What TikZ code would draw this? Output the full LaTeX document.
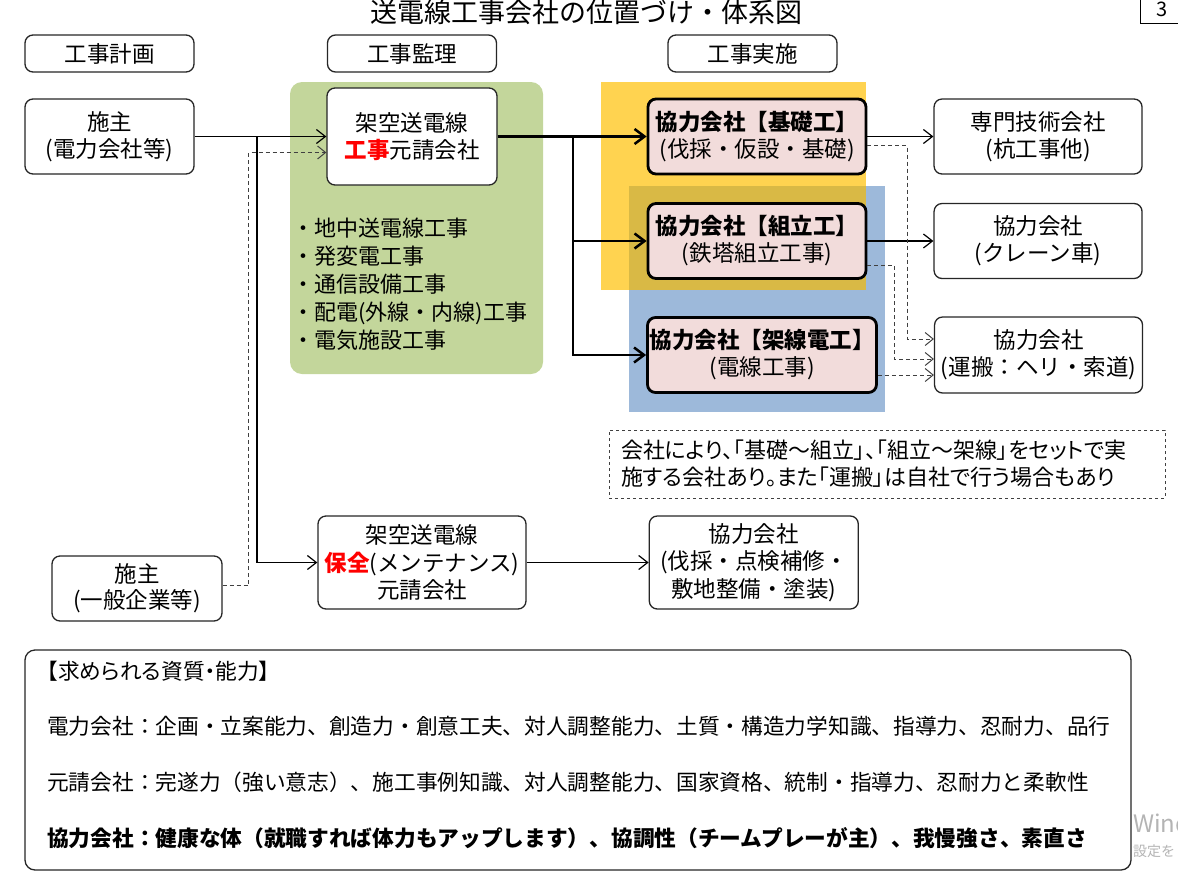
\documentclass[tikz,border=0pt]{standalone}
\usepackage{fontspec}
\setmainfont{Noto Sans CJK JP}
\usepackage{xcolor}
\usetikzlibrary{arrows.meta, positioning}
\definecolor{bggreen}{HTML}{C3D69B}
\definecolor{bgyellow}{HTML}{FFD350}
\definecolor{bgblue}{HTML}{9DB9DA}
\definecolor{bgmix}{HTML}{D9B945}
\definecolor{pinkfill}{HTML}{F2DCDB}
\definecolor{markgray}{HTML}{B4B4B4}

\begin{document}
\begin{tikzpicture}[x=1pt, y=-1pt,
    box/.style={rectangle, rounded corners=8pt, draw=black!85, line width=1.3pt, fill=white,
                align=center, inner sep=2pt, font=\fontsize{22.5}{27}\selectfont},
    headbox/.style={box, minimum width=169pt, minimum height=37pt},
    pinkbox/.style={box, fill=pinkfill, draw=black, line width=2.8pt, minimum height=75pt},
    arrow/.style={-{Straight Barb[length=9pt,width=14pt]}, line width=1.2pt},
    thickarrow/.style={-{Straight Barb[length=10pt,width=15pt]}, line width=2.5pt},
    dasharrow/.style={-{Straight Barb[length=8pt,width=13pt]}, line width=1pt,
                      dash pattern=on 4pt off 3pt, draw=black!75}
]
    \useasboundingbox (0,0) rectangle (1178,876);

    % coloured groups
    \fill[bggreen, rounded corners=12pt] (290,82) rectangle (543,374);
    \fill[bgblue] (629,186) rectangle (885,412);
    \fill[bgyellow] (601,82) rectangle (866,290);
    \fill[bgmix] (629,186) rectangle (866,290);

    \node[font=\fontsize{27}{27}\selectfont] (title) at (586,12) {送電線工事会社の位置づけ・体系図};
    \node[draw, line width=1pt, minimum width=44pt, minimum height=28pt,
          font=\fontsize{20}{20}\selectfont] (pagenum) at (1162,9) {3};

    \node[headbox] (plan)  at (109.5,53.5) {工事計画};
    \node[headbox] (super) at (412,53.5)   {工事監理};
    \node[headbox] (exec)  at (752.5,53.5) {工事実施};

    \node[box, minimum width=169pt, minimum height=75pt] (owner) at (109.5,136.5) {施主\\(電力会社等)};
    \node[box, minimum width=170pt, minimum height=97pt] (prime) at (412,136.5)
        {架空送電線\\\textbf{\textcolor{red}{工事}}元請会社};
    \node[anchor=north west, align=left, inner sep=0pt, font=\fontsize{22}{28}\selectfont] (works)
        at (292,218) {・地中送電線工事\\・発変電工事\\・通信設備工事\\・配電(外線・内線)工事\\・電気施設工事};

    \node[pinkbox, minimum width=218pt] (kiso)  at (757,136.5) {\textbf{協力会社【基礎工】}\\(伐採・仮設・基礎)};
    \node[pinkbox, minimum width=218pt] (kumi)  at (757,241)   {\textbf{協力会社【組立工】}\\(鉄塔組立工事)};
    \node[pinkbox, minimum width=228pt] (kasen) at (762,355)   {\textbf{協力会社【架線電工】}\\(電線工事)};

    \node[box, minimum width=208pt, minimum height=75pt, right=66pt of kiso]  (senmon) {専門技術会社\\(杭工事他)};
    \node[box, minimum width=208pt, minimum height=75pt, right=66pt of kumi]  (crane)  {協力会社\\(クレーン車)};
    \node[box, minimum width=208pt, minimum height=76pt, right=56pt of kasen] (unpan)  {協力会社\\(運搬：ヘリ・索道)};

    \node[draw=black!75, dashed, line width=1pt, minimum width=556pt, minimum height=68pt,
          text width=532pt, align=left,
          font=\fontsize{22}{27}\selectfont\addfontfeature{RawFeature=+palt}] (note) at (887,464)
        {会社により、「基礎～組立」、「組立～架線」をセットで実\\施する会社あり。また「運搬」は自社で行う場合もあり};

    \node[box, minimum width=208pt, minimum height=93pt, font=\fontsize{22.5}{27.5}\selectfont] (hozen) at (422,562.5)
        {架空送電線\\\textbf{\textcolor{red}{保全}}(メンテナンス)\\元請会社};
    \node[box, minimum width=209pt, minimum height=93pt, font=\fontsize{22.5}{27.5}\selectfont,
          right=122pt of hozen] (partner) {協力会社\\(伐採・点検補修・\\敷地整備・塗装)};
    \node[box, minimum width=170pt, minimum height=65pt, font=\fontsize{22.5}{26}\selectfont] (owner2)
        at (137,588.5) {施主\\(一般企業等)};

    % requirements
    \node[box, rounded corners=10pt, minimum width=1106pt, minimum height=220pt] (req) at (578,760) {};
    \node[anchor=west, align=left, inner sep=0pt, font=\fontsize{21.7}{55.7}\selectfont] (reqtext) at (47,754.5)
        {{\addfontfeature{RawFeature=+palt}【求められる資質・能力】}\\
         電力会社：企画・立案能力、創造力・創意工夫、対人調整能力、土質・構造力学知識、指導力、忍耐力、品行\\
         元請会社：完遂力（強い意志）、施工事例知識、対人調整能力、国家資格、統制・指導力、忍耐力と柔軟性\\
         \textbf{協力会社：健康な体（就職すれば体力もアップします）、協調性（チームプレーが主）、我慢強さ、素直さ}};

    \node[anchor=west, inner sep=0pt, text=markgray, font=\fontsize{24}{24}\selectfont] (wm1) at (1133,823) {Wind};
    \node[anchor=west, inner sep=0pt, text=markgray, font=\fontsize{14}{14}\selectfont] (wm2) at (1133,851) {設定を};

    % connectors
    \coordinate (j1) at (257,136.5);
    \coordinate (j2) at (573,136.5);
    \draw[arrow] (owner) -- (prime);
    \draw[arrow] (j1) |- (hozen);
    \draw[dasharrow] ([yshift=3pt]owner2.east) -- ++(26,0) |- ([yshift=-16pt]prime.west);
    \draw[thickarrow] (prime) -- (kiso);
    \draw[thickarrow] (j2) |- (kumi);
    \draw[thickarrow] (j2) |- (kasen);
    \draw[arrow] (kiso) -- (senmon);
    \draw[arrow] (kumi) -- (crane);
    \draw[dasharrow] ([yshift=-9pt]kiso.east) -- ++(40,0) |- ([yshift=16pt]unpan.west);
    \draw[dasharrow] ([yshift=-24pt]kumi.east) -- ++(27,0) |- ([yshift=-4pt]unpan.west);
    \draw[dasharrow] ([yshift=-20pt]kasen.east) -- ([yshift=-20pt]unpan.west);
    \draw[arrow] (hozen) -- (partner);
\end{tikzpicture}
\end{document}
